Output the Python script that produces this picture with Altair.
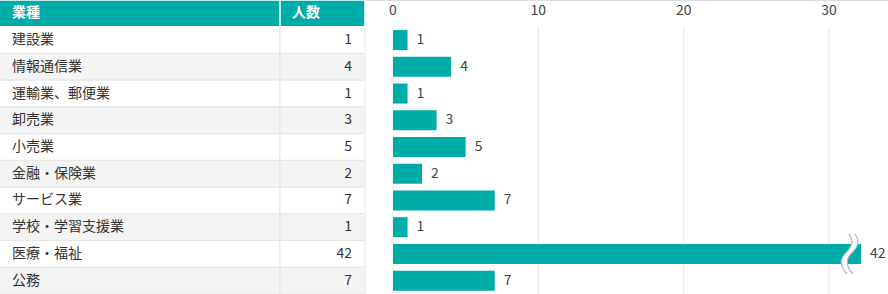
import altair as alt
import pandas as pd

# ---- data ----
categories = ["建設業", "情報通信業", "運輸業、郵便業", "卸売業", "小売業",
              "金融・保険業", "サービス業", "学校・学習支援業", "医療・福祉", "公務"]
values = [1, 4, 1, 3, 5, 2, 7, 1, 42, 7]
header_labels = ["業種", "人数"]
axis_ticks = [0, 10, 20, 30]
x_max = 32.2        # visible end of the axis; longer bars are cut (broken)
break_at = 31.3     # where the break mark sits on the long bar

HEADER = " "
rows = [HEADER] + categories

TEAL = "#00aca7"
FONT = "Noto Sans CJK JP"
FS = 14
W, H = 888, 294
COL1, COL2 = 280, 365
HEADER_H = H / len(rows)

df = pd.DataFrame({"cat": categories, "n": values})
hdr = pd.DataFrame({"cat": [HEADER], "h1": [header_labels[0]], "h2": [header_labels[1]]})
ticks_df = pd.DataFrame({"t": axis_ticks})

yenc = alt.Y("cat:N", scale=alt.Scale(domain=rows, paddingInner=0, paddingOuter=0), axis=None, sort=rows)
xscale = alt.Scale(domain=[0, x_max], range=[393, 861], clamp=True, nice=False, zero=True)

base = alt.Chart(df).transform_window(rn="row_number()").transform_calculate(
    stripe="datum.rn % 2 == 0 ? 'b' : 'a'")
fill = alt.Color("stripe:N", scale=alt.Scale(domain=["a", "b"], range=["#ffffff", "#f4f4f4"]), legend=None)

cell1 = base.mark_rect(stroke="#e6e6e6", strokeWidth=1).encode(
    x=alt.value(-1), x2=alt.value(COL1), y=yenc, color=fill)
cell2 = base.mark_rect(stroke="#e6e6e6", strokeWidth=1).encode(
    x=alt.value(COL1), x2=alt.value(COL2), y=yenc, color=fill)
txt1 = base.mark_text(align="left", baseline="middle", fontSize=FS, color="#333333", font=FONT).encode(
    x=alt.value(12), y=yenc, text="cat:N")
txt2 = base.mark_text(align="right", baseline="middle", fontSize=FS, color="#333333", font=FONT).encode(
    x=alt.value(352), y=yenc, text="n:Q")

h = alt.Chart(hdr)
hcell1 = h.mark_rect(fill=TEAL, stroke="white", strokeWidth=1.5).encode(
    x=alt.value(-2), x2=alt.value(COL1), y=yenc)
hcell2 = h.mark_rect(fill=TEAL, stroke="white", strokeWidth=1.5).encode(
    x=alt.value(COL1), x2=alt.value(COL2), y=yenc)
htxt1 = h.mark_text(align="left", baseline="middle", fontSize=FS, fontWeight="bold", color="white", font=FONT).encode(
    x=alt.value(12), y=yenc, text="h1:N")
htxt2 = h.mark_text(align="left", baseline="middle", fontSize=FS, fontWeight="bold", color="white", font=FONT).encode(
    x=alt.value(292), y=yenc, text="h2:N")

xenc_t = alt.X("t:Q", scale=xscale, axis=None)
grid = alt.Chart(ticks_df).mark_rule(color="#e6e6e6", strokeWidth=1).encode(
    x=xenc_t, y=alt.value(HEADER_H), y2=alt.value(H))
tick_labels = alt.Chart(ticks_df).mark_text(align="center", baseline="middle", fontSize=FS,
                                            color="#444444", font=FONT).encode(
    x=xenc_t, y=alt.value(11), text="t:Q")

bars = alt.Chart(df).mark_bar(height=20, color=TEAL).encode(
    x=alt.X("n:Q", scale=xscale, axis=None), y=yenc)
labels = alt.Chart(df).mark_text(align="left", baseline="middle", dx=9, fontSize=FS,
                                 color="#444444", font=FONT).encode(
    x=alt.X("n:Q", scale=xscale, axis=None), y=yenc, text="n:Q")

band_path = ("M0.05,-1 C0.35,-0.6 0.15,-0.3 -0.15,0 C-0.45,0.3 -0.35,0.7 -0.05,1 "
             "L0.25,1 C-0.05,0.7 -0.15,0.3 0.15,0 C0.45,-0.3 0.65,-0.6 0.35,-1 Z")
line_path = ("M0.05,-1 C0.35,-0.6 0.15,-0.3 -0.15,0 C-0.45,0.3 -0.35,0.7 -0.05,1 "
             "M0.35,-1 C0.65,-0.6 0.45,-0.3 0.15,0 C-0.15,0.3 -0.05,0.7 0.25,1")
brk = alt.Chart(df).transform_filter(f"datum.n > {x_max}").transform_calculate(pos=str(break_at))
brk_fill = brk.mark_point(shape=band_path, filled=True, fill="white", strokeWidth=0, size=1600, opacity=1).encode(
    x=alt.X("pos:Q", scale=xscale, axis=None), y=yenc)
brk_line = brk.mark_point(shape=line_path, filled=False, stroke="#b8b8b8", strokeWidth=1.2, size=1600, opacity=1).encode(
    x=alt.X("pos:Q", scale=xscale, axis=None), y=yenc)

chart = alt.layer(
    cell1, cell2, hcell1, hcell2, txt1, txt2, htxt1, htxt2, grid, tick_labels, bars, labels, brk_fill, brk_line
).properties(
    width=W, height=H, padding=0, autosize=alt.AutoSizeParams(type="none")
).configure_view(stroke=None).configure(font=FONT, background="white")

chart.save("out.html", embed_options={"renderer": "svg", "actions": False})
